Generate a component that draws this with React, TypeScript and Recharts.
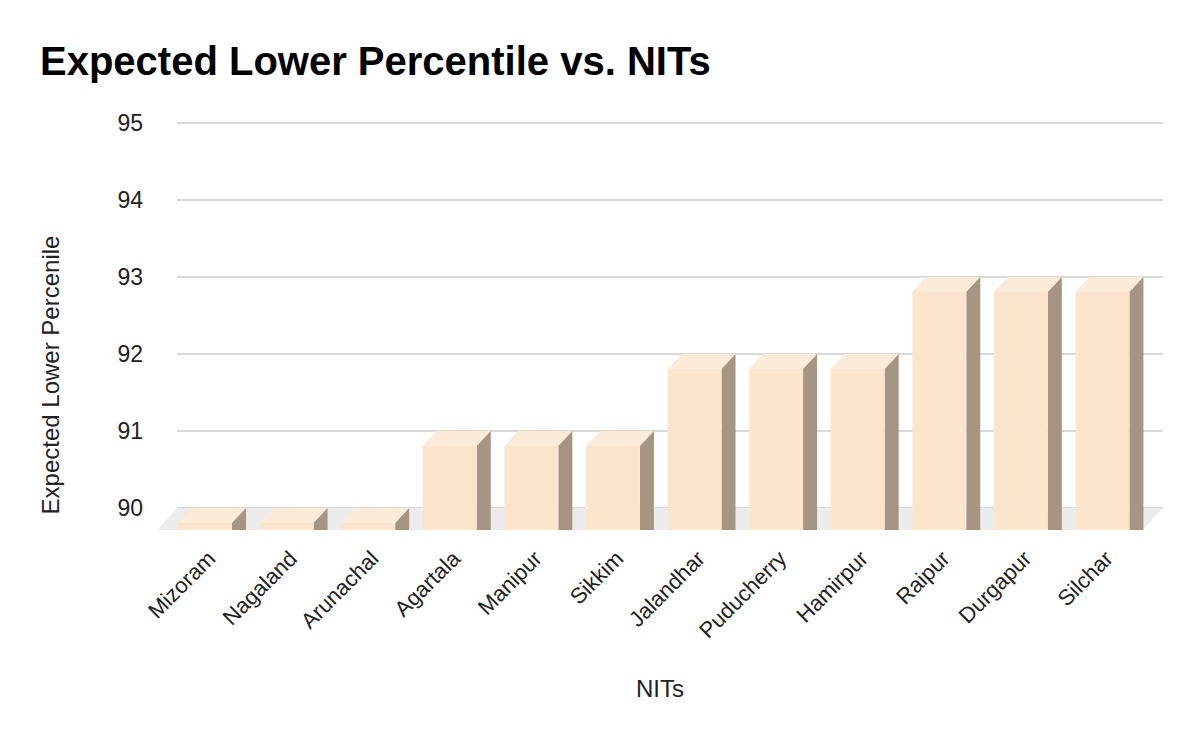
import React from "react";
import { BarChart, Bar, XAxis, YAxis, CartesianGrid, ReferenceArea } from "recharts";

const nits = [
  "Mizoram",
  "Nagaland",
  "Arunachal",
  "Agartala",
  "Manipur",
  "Sikkim",
  "Jalandhar",
  "Puducherry",
  "Hamirpur",
  "Raipur",
  "Durgapur",
  "Silchar",
];
const lowerPercentile = [90, 90, 90, 91, 91, 91, 92, 92, 92, 93, 93, 93];
const yTicks = [90, 91, 92, 93, 94, 95];

const data = nits.map((name, i) => ({ name, value: lowerPercentile[i] }));

const FONT = '"Liberation Sans", Arial, sans-serif';
// 3d look: depth offset of the bar sides and of the floor
const DX = 14;
const DY = 15;
const FLOOR_DX = 20;
const FLOOR_DY = 22;

function Box3D(props: any) {
  const { x, y, width, height } = props;
  const base = y + height;
  const ft = y + DY;
  const fb = base + FLOOR_DY;
  return (
    <g>
      <polygon
        points={`${x},${ft} ${x + DX},${y} ${x + width + DX},${y} ${x + width},${ft}`}
        fill="#fdebd9"
      />
      <polygon
        points={`${x + width},${ft} ${x + width + DX},${y} ${x + width + DX},${fb} ${x + width},${fb}`}
        fill="#a69583"
      />
      <rect x={x} y={ft} width={width} height={fb - ft} fill="#fce5cd" />
    </g>
  );
}

function Floor(props: any) {
  const { x, y, width, height } = props;
  const back = y + height;
  const front = back + FLOOR_DY;
  const left = x + FLOOR_DX - 7;
  return (
    <polygon
      points={`${left},${back} ${x + width + FLOOR_DX},${back} ${x + width},${front} ${x - 7},${front}`}
      fill="#ececec"
    />
  );
}

function XTick(props: any) {
  const { x, payload } = props;
  return (
    <text
      transform={`translate(${x + 12},560) rotate(-45)`}
      textAnchor="end"
      fontFamily={FONT}
      fontSize={22}
      fill="#222"
    >
      {payload.value}
    </text>
  );
}

function YTick(props: any) {
  const { y, payload } = props;
  return (
    <text x={143} y={y} dy="0.35em" textAnchor="end" fontFamily={FONT} fontSize={23} fill="#222">
      {payload.value}
    </text>
  );
}

export default function App() {
  return (
    <div style={{ position: "absolute", left: 0, top: 0, width: 1200, height: 742, background: "#fff" }}>
      <BarChart width={1200} height={742} data={data} margin={{ top: 123, right: 57, left: 144, bottom: 204 }}>
        <CartesianGrid
          vertical={false}
          horizontal={(p: any) => (
            <line key={p.key} x1={p.x1 + 13} x2={p.x2 + 20} y1={p.y1} y2={p.y2} stroke="#cccccc" strokeWidth={1.5} />
          )}
        />
        <ReferenceArea y1={90} y2={90.05} shape={Floor} ifOverflow="visible" />
        <XAxis dataKey="name" height={30} axisLine={false} tickLine={false} interval={0} tick={XTick} />
        <YAxis domain={[90, 95]} ticks={yTicks} width={20} axisLine={false} tickLine={false} tick={YTick} />
        <Bar dataKey="value" barSize={54} shape={Box3D} isAnimationActive={false} />
      </BarChart>
      <svg width={1200} height={742} style={{ position: "absolute", left: 0, top: 0, pointerEvents: "none" }}>
        <text x={40} y={75} fontFamily={FONT} fontSize={40} fontWeight="bold" fill="#000">
          Expected Lower Percentile vs. NITs
        </text>
        <text
          transform="translate(59,375) rotate(-90)"
          textAnchor="middle"
          fontFamily={FONT}
          fontSize={24}
          fill="#222"
        >
          Expected Lower Percenile
        </text>
        <text x={660} y={697} textAnchor="middle" fontFamily={FONT} fontSize={24} fill="#222">
          NITs
        </text>
      </svg>
    </div>
  );
}
